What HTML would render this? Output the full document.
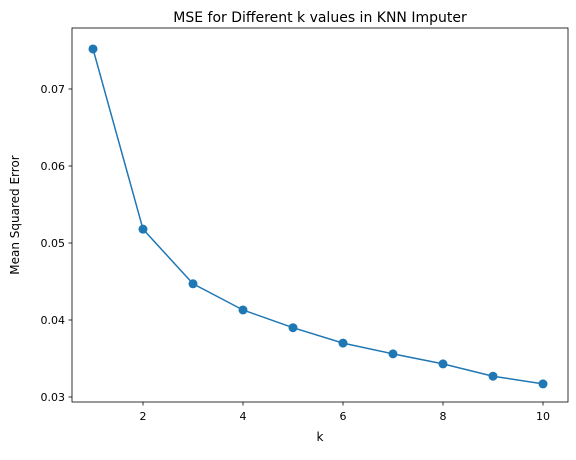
<!DOCTYPE html>
<html><head><meta charset="utf-8"><style>
body{margin:0;background:#fff;font-family:"Liberation Sans","DejaVu Sans",sans-serif;}
svg text{font-family:"DejaVu Sans","Liberation Sans",sans-serif;}
</style></head><body>
<svg id="chart" width="576" height="455" xmlns="http://www.w3.org/2000/svg">
<rect x="0" y="0" width="576" height="455" fill="#fff"/>
<text x="320" y="22" font-size="14" text-anchor="middle">MSE for Different k values in KNN Imputer</text>
<text x="320" y="441" font-size="12" text-anchor="middle">k</text>
<text transform="translate(19,215) rotate(-90)" font-size="12" text-anchor="middle">Mean Squared Error</text>
<g id="ticks"></g>
<g id="marks"></g>
<rect x="72" y="28" width="496" height="374" fill="none" stroke="#000" stroke-width="0.8"/>
</svg>
<script>
const kValues=[1,2,3,4,5,6,7,8,9,10];
const mseValues=[0.0752,0.0518,0.0447,0.0413,0.0390,0.0370,0.0356,0.0343,0.0327,0.0317];
const xTicks=[2,4,6,8,10];
const yTicks=[0.03,0.04,0.05,0.06,0.07];
const NS="http://www.w3.org/2000/svg";
function xs(k){return 93+(k-1)*50;}
function ys(v){return 397-(v-0.03)*7700;}
function mk(t,a,p){const e=document.createElementNS(NS,t);for(const k in a)e.setAttribute(k,a[k]);p.appendChild(e);return e;}
const tg=document.getElementById('ticks'),mg=document.getElementById('marks');
xTicks.forEach(t=>{const l=mk('line',{x1:xs(t),x2:xs(t),y1:402,y2:405.5,stroke:'#000','stroke-width':0.8},tg);


const tx=mk('text',{x:xs(t),y:420,'font-size':11,'text-anchor':'middle'},tg);tx.textContent=t;

});
yTicks.forEach(t=>{const l=mk('line',{x1:68.5,x2:72,y1:ys(t),y2:ys(t),stroke:'#000','stroke-width':0.8},tg);


const tx=mk('text',{x:65,y:ys(t)+4,'font-size':11,'text-anchor':'end'},tg);tx.textContent=t.toFixed(2);

});
const pl=mk('polyline',{points:kValues.map((k,i)=>xs(k)+','+ys(mseValues[i])).join(' '),fill:'none',stroke:'#1f77b4','stroke-width':1.5},mg);


kValues.forEach((k,i)=>{const c=mk('circle',{cx:xs(k),cy:ys(mseValues[i]),r:4.5,fill:'#1f77b4'},mg);

});
</script>
</body></html>
